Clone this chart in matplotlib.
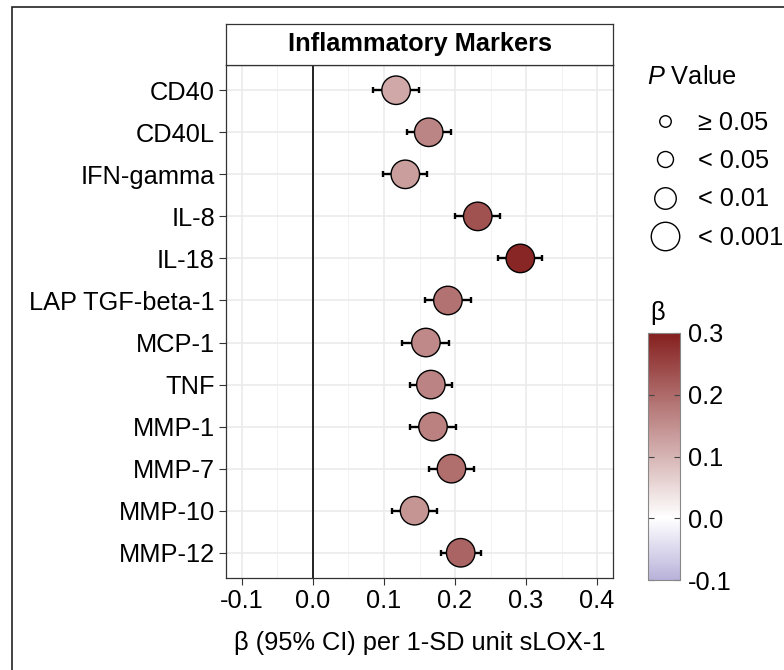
import numpy as np
import matplotlib
matplotlib.use('Agg')
import matplotlib.pyplot as plt
from matplotlib.colors import LinearSegmentedColormap, Normalize
from matplotlib.lines import Line2D
from matplotlib.patches import Rectangle

plt.rcParams['font.family'] = ['Liberation Sans', 'DejaVu Sans']
plt.rcParams['mathtext.fontset'] = 'custom'
plt.rcParams['mathtext.it'] = 'Liberation Sans:italic'
plt.rcParams['mathtext.rm'] = 'Liberation Sans'

FS = 18.3

# dados
marcadores = ['CD40', 'CD40L', 'IFN-gamma', 'IL-8', 'IL-18', 'LAP TGF-beta-1',
              'MCP-1', 'TNF', 'MMP-1', 'MMP-7', 'MMP-10', 'MMP-12']
beta = [0.117, 0.163, 0.130, 0.232, 0.292, 0.190, 0.159, 0.166, 0.169, 0.195, 0.143, 0.208]
ic_inf = [0.085, 0.132, 0.098, 0.200, 0.261, 0.158, 0.126, 0.136, 0.137, 0.163, 0.111, 0.180]
ic_sup = [0.149, 0.195, 0.161, 0.263, 0.323, 0.222, 0.192, 0.196, 0.201, 0.227, 0.174, 0.237]
p_cat = ['< 0.001'] * 12

p_niveis = ['≥ 0.05', '< 0.05', '< 0.01', '< 0.001']
p_tamanho = [8.3, 11.5, 15.5, 20.5]  # diametro em pt

xticks = [-0.1, 0.0, 0.1, 0.2, 0.3, 0.4]
cbar_ticks = [-0.1, 0.0, 0.1, 0.2, 0.3]

W, H = 784, 670
fig = plt.figure(figsize=(W / 100, H / 100), dpi=100)

cmap = LinearSegmentedColormap.from_list('beta', [(0, '#b9b2da'), (0.25, '#ffffff'), (1, '#85201f')])
norm = Normalize(-0.1, 0.3)

ax = fig.add_axes([226 / W, 1 - 578 / H, 387 / W, 513 / H])
y = np.arange(len(marcadores))
beta = np.array(beta)
xerr = [beta - np.array(ic_inf), np.array(ic_sup) - beta]

tam = dict(zip(p_niveis, p_tamanho))
s = [tam[p] ** 2 for p in p_cat]

ax.axvline(0, color='black', lw=1.2, zorder=2)
ax.errorbar(beta, y, xerr=xerr, fmt='none', ecolor='black', elinewidth=1.7,
            capsize=2.2, capthick=1.7, zorder=3)
ax.scatter(beta, y, s=s, c=beta, cmap=cmap, norm=norm, edgecolors='black',
           linewidths=1.0, zorder=4)

ax.set_xlim(-0.1225, 0.4225)
ax.set_ylim(len(marcadores) - 0.4, -0.6)
ax.set_xticks(xticks)
ax.set_xticklabels([f'{t:.1f}' for t in xticks])
ax.set_xticks(np.arange(-0.05, 0.45, 0.1), minor=True)
ax.set_yticks(y)
ax.set_yticklabels(marcadores)
ax.tick_params(axis='both', which='major', labelsize=FS, length=5, width=0.8,
               color='#333333', labelcolor='black', pad=3)
ax.tick_params(axis='x', which='minor', length=0)
ax.grid(True, which='major', color='#ebebeb', lw=1.2, zorder=0)
ax.grid(True, which='minor', axis='x', color='#f2f2f2', lw=0.7, zorder=0)
ax.set_axisbelow(True)
for sp in ax.spines.values():
    sp.set_color('#333333')
    sp.set_linewidth(0.9)
ax.set_xlabel('β (95% CI) per 1-SD unit sLOX-1', fontsize=FS, labelpad=13)

# faixa do título do painel
strip = fig.add_axes([226 / W, 1 - 65 / H, 387 / W, 41 / H])
strip.set_xticks([])
strip.set_yticks([])
for sp in strip.spines.values():
    sp.set_color('#333333')
    sp.set_linewidth(0.9)
strip.text(0.5, 0.5, 'Inflammatory Markers', ha='center', va='center', fontsize=FS,
           fontweight='bold', transform=strip.transAxes)

# legenda do valor P
fig.text(647 / W, 1 - 77 / H, '$P$ Value', fontsize=FS, va='center', ha='left')
handles = [Line2D([], [], marker='o', linestyle='none', markersize=t,
                  markerfacecolor='white', markeredgecolor='black', markeredgewidth=1.0)
           for t in p_tamanho]
leg = fig.legend(handles, p_niveis, loc='upper left', bbox_to_anchor=(645 / W, 1 - 111 / H),
                 frameon=False, fontsize=FS, labelspacing=0.56, handletextpad=0.5,
                 handlelength=1.6, borderaxespad=0, borderpad=0)

# barra de cores
cax = fig.add_axes([648 / W, 1 - 580 / H, 32 / W, 247 / H])
cb = fig.colorbar(plt.cm.ScalarMappable(norm=norm, cmap=cmap), cax=cax, ticks=cbar_ticks)
cb.outline.set_edgecolor('#888888')
cb.outline.set_linewidth(0.8)
cax.tick_params(labelsize=FS, direction='in', length=4, width=0.8, color='#444444',
                left=True, right=True, pad=6)
cax.set_yticklabels([f'{t:.1f}' for t in cbar_ticks])
fig.text(650 / W, 1 - 313 / H, 'β', fontsize=FS, va='center', ha='left')

# moldura externa
fig.patches.append(Rectangle((12 / W, -0.1), 1.2, 1.1 - 7 / H, transform=fig.transFigure,
                             fill=False, lw=1.2, edgecolor='#222222'))

fig.savefig('out.png', dpi=100)
